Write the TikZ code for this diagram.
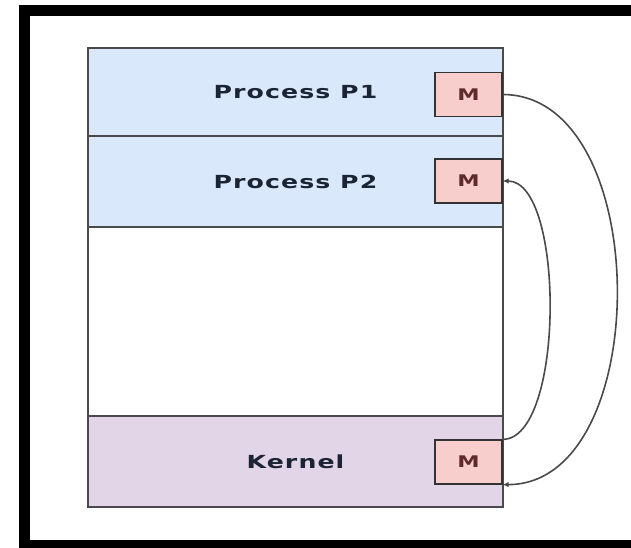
\documentclass[tikz,border=0pt]{standalone}
\usepackage{fontspec}
\usetikzlibrary{arrows.meta}
\newfontfamily\bandfont[FakeStretch=1.4,LetterSpace=6]{DejaVu Sans}
\definecolor{userblue}{HTML}{DAE8FC}
\definecolor{kernelpurple}{HTML}{E1D5E7}
\definecolor{mapred}{HTML}{F8CECC}
\definecolor{edgegray}{HTML}{4A4A4A}
\definecolor{labelink}{HTML}{1B2433}
\definecolor{mapink}{HTML}{5E2A2A}
\begin{document}
\begin{tikzpicture}[x=1pt,y=-1pt]
      \useasboundingbox (0,0) rectangle (631,548);
      \clip (0,0) rectangle (631,548);
      \fill[white] (0,0) rectangle (631,548);
      % outer frame, right side runs off the page
      \draw[line width=11pt] (24,10.5) rectangle (660,545);
      \begin{scope}[every node/.style={rectangle,draw=edgegray,line width=1.2pt,
          minimum width=415pt,inner sep=0pt,text=labelink,
          font=\bandfont\bfseries\fontsize{18}{20}\selectfont}]
        \node[fill=userblue,minimum height=88pt] (p1) at (295.5,92) {Process P1};
        \node[fill=userblue,minimum height=91pt] (p2) at (295.5,181.5) {Process P2};
        \node[fill=white,minimum height=189pt] (free) at (295.5,321.5) {};
        \node[fill=kernelpurple,minimum height=91pt] (kernel) at (295.5,461.5) {Kernel};
      \end{scope}
      \begin{scope}[every node/.style={rectangle,draw=black!80,line width=1.2pt,fill=mapred,
          minimum width=67pt,minimum height=44pt,inner sep=0pt,text=mapink,
          font=\bandfont\bfseries\fontsize{16}{18}\selectfont}]
        \node (m1) at (468.5,94.5) {M};
        \node (m2) at (468.5,181) {M};
        \node (mk) at (468.5,462) {M};
      \end{scope}
      \begin{scope}[every edge/.style={draw=edgegray,line width=1.6pt,
          -{Latex[length=6pt,width=5.5pt]}}]
          \path (m1.east) edge[out=0,in=0] (mk.south east);
          \path (mk.north east) edge[out=0,in=0,looseness=0.62] (m2.east);
      \end{scope}
    \end{tikzpicture}
\end{document}
